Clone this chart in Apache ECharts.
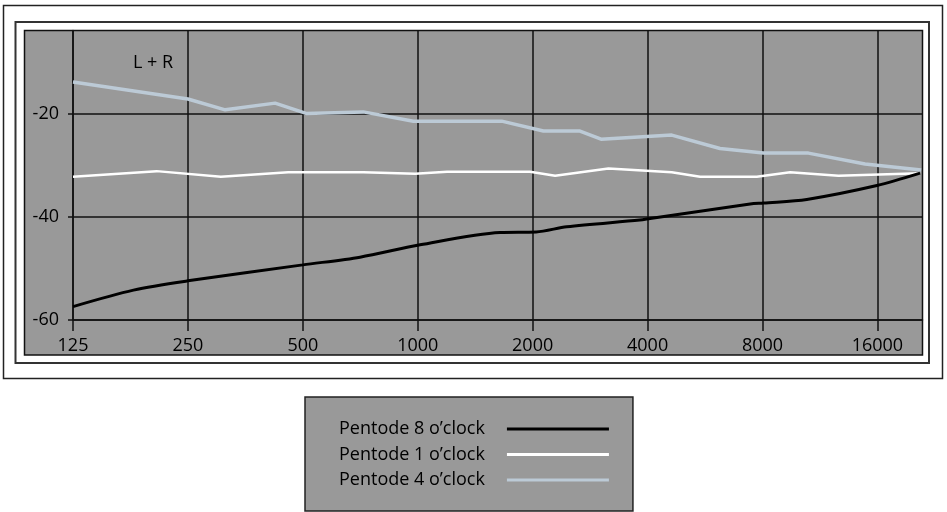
<!DOCTYPE html>
<html>
<head>
<meta charset="utf-8">
<script src="https://cdn.jsdelivr.net/npm/echarts@6/dist/echarts.min.js"></script>
<style>
html,body{margin:0;padding:0;background:#fff;}
#chart{width:947px;height:512px;}
</style>
</head>
<body>
<div id="chart"></div>
<script>
// ---- data (frequency in Hz, level in dB) ----
const xTicks = [125, 250, 500, 1000, 2000, 4000, 8000, 16000];
const yTicks = [-60, -40, -20];

const freq8 = [125, 180, 250, 500, 706, 1014, 1643, 2042, 2457, 3816, 4062, 7425, 8046, 10450, 15950, 20700];
const val8  = [-57.4, -54.2, -52.4, -49.3, -47.8, -45.4, -43.0, -42.9, -41.9, -40.6, -40.3, -37.5, -37.3, -36.6, -33.9, -31.5];

const freq1 = [125, 207, 305, 458, 720, 984, 1194, 1969, 2290, 3159, 4627, 5490, 7730, 9450, 12650, 20700];
const val1  = [-32.2, -31.1, -32.2, -31.3, -31.3, -31.6, -31.2, -31.2, -32.0, -30.6, -31.3, -32.2, -32.2, -31.3, -32.0, -31.5];

const freq4 = [125, 250, 313, 423, 510, 720, 974, 1659, 2134, 2650, 3021, 4627, 6190, 8046, 10550, 14850, 20830];
const val4  = [-13.8, -17.1, -19.2, -17.9, -19.9, -19.6, -21.4, -21.4, -23.3, -23.3, -24.9, -24.1, -26.7, -27.6, -27.6, -29.7, -30.9];

const seriesNames = ['Pentode 8 o\u2019clock', 'Pentode 1 o\u2019clock', 'Pentode 4 o\u2019clock'];

function pairs(xs, ys) { return xs.map((x, i) => [x, ys[i]]); }

const FONT = 'Open Sans';
const chart = echarts.init(document.getElementById('chart'), null, {renderer: 'canvas'});

chart.setOption({
  animation: false,
  backgroundColor: '#fff',
  graphic: [
    {type: 'rect', z: -10, shape: {x: 3.5, y: 5.5, width: 939, height: 373}, style: {fill: '#fff', stroke: '#222', lineWidth: 1.5}},
    {type: 'rect', z: -9, shape: {x: 15.5, y: 22, width: 913.5, height: 341}, style: {fill: '#fff', stroke: '#333', lineWidth: 2}},
    {type: 'rect', z: -8, shape: {x: 24.5, y: 30.5, width: 898, height: 324.5}, style: {fill: '#999999', stroke: '#111', lineWidth: 1.5}},
    {type: 'text', z: 10, left: 133, top: 54, style: {text: 'L + R', font: '18px "' + FONT + '"', fill: '#000'}}
  ],
  legend: {
    orient: 'vertical',
    left: 305, top: 397,
    align: 'right',
    icon: 'rect',
    itemWidth: 102, itemHeight: 3, itemGap: 5.5,
    backgroundColor: '#999999', borderColor: '#222', borderWidth: 1.5,
    padding: [22, 24, 21, 34],
    textStyle: {fontFamily: FONT, fontSize: 18, color: '#000', lineHeight: 20, padding: [0, 17, 0, 0]},
    data: seriesNames
  },
  grid: {left: 73, right: 24.5, top: 30.5, bottom: 192, containLabel: false},
  xAxis: {
    type: 'log', logBase: 2, min: 125, max: 21000,
    axisLine: {show: true, lineStyle: {color: '#111', width: 1.5}},
    axisTick: {show: true, length: 11, lineStyle: {color: '#111', width: 1.5}, customValues: xTicks},
    axisLabel: {customValues: xTicks, fontFamily: FONT, fontSize: 18, color: '#000', margin: 17, formatter: v => String(Math.round(v))},
    splitLine: {show: true, lineStyle: {color: '#111', width: 1.5}},
    minorTick: {show: false}, minorSplitLine: {show: false}
  },
  yAxis: {
    type: 'value', min: -60, max: -3.8,
    axisLine: {show: true, lineStyle: {color: '#111', width: 1.5}},
    axisTick: {show: true, length: 5, lineStyle: {color: '#111', width: 1.5}, customValues: yTicks},
    axisLabel: {customValues: yTicks, fontFamily: FONT, fontSize: 18, color: '#000', margin: 14},
    splitLine: {show: true, lineStyle: {color: '#111', width: 1.5}}
  },
  series: [
    {name: seriesNames[0], type: 'line', data: pairs(freq8, val8), smooth: 0.3, showSymbol: false, color: '#000', lineStyle: {color: '#000', width: 3}, z: 5},
    {name: seriesNames[1], type: 'line', data: pairs(freq1, val1), showSymbol: false, color: '#fff', lineStyle: {color: '#fff', width: 2.5}, z: 4},
    {name: seriesNames[2], type: 'line', data: pairs(freq4, val4), showSymbol: false, color: '#bccad6', lineStyle: {color: '#bccad6', width: 3.5}, z: 3}
  ]
});
</script>
</body>
</html>
